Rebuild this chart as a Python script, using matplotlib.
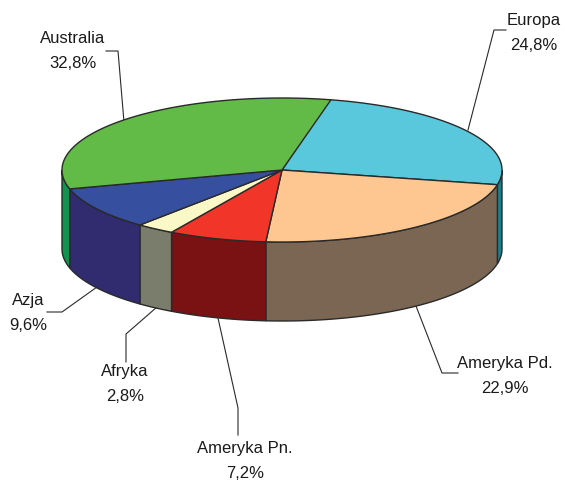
import matplotlib
matplotlib.use("Agg")
import matplotlib.pyplot as plt
import numpy as np

# values in percent, clockwise from the top
labels = ["Europa", "Ameryka Pd.", "Ameryka Pn.", "Afryka", "Azja", "Australia"]
values = [24.8, 22.9, 7.2, 2.8, 9.6, 32.8]
value_text = ["24,8%", "22,9%", "7,2%", "2,8%", "9,6%", "32,8%"]
top_colors = ["#5AC8DC", "#FEC690", "#F13529", "#FBF8C8", "#36509F", "#62BB46"]
side_colors = ["#1C7F8B", "#7A6652", "#7A1113", "#7B7D6C", "#312B70", "#12914F"]

# pixel layout of the pie
cx, cy = 282, 170
rx, ry = 220, 72
depth = 79
start = 77.5

# label position, leader line points
label_pos = [(534, 33), (505, 376), (245, 461), (125, 384), (28, 313), (73, 51)]
leaders = [
    [(506, 30), (494, 30), (468, 130)],
    [(458, 373), (442, 373), (416, 306)],
    [(238, 435), (238, 408), (218, 318)],
    [(126, 362), (126, 334), (157, 307)],
    [(47, 312), (62, 312), (97, 287)],
    [(106, 51), (118, 51), (124, 122)],
]

plt.rcParams["font.family"] = ["Liberation Sans"]
fig = plt.figure(figsize=(5.65, 4.83), dpi=100)
ax = fig.add_axes([0, 0, 1, 1])
ax.set_xlim(0, 565)
ax.set_ylim(483, 0)
ax.axis("off")

edges = start - np.cumsum([0] + values) * 3.6


def arc(a, b):
    t = np.radians(np.linspace(a, b, 80))
    return cx + rx * np.cos(t), cy - ry * np.sin(t)


# walls first, only the front half of the rim shows
for i in range(len(values)):
    a, b = edges[i], edges[i + 1]
    # front half runs from 0 to -180
    a2, b2 = min(a, 0), max(b, -180)
    if a2 <= b2:
        continue
    x, y = arc(a2, b2)
    ax.fill(np.r_[x, x[::-1]], np.r_[y, y[::-1] + depth], fc=side_colors[i],
            ec="#2a2a2a", lw=1.0, zorder=2)

for i in range(len(values)):
    x, y = arc(edges[i], edges[i + 1])
    ax.fill(np.r_[cx, x], np.r_[cy, y], fc=top_colors[i], ec="#2a2a2a", lw=1.0, zorder=3)

for i in range(len(labels)):
    pts = np.array(leaders[i])
    ax.plot(pts[:, 0], pts[:, 1], color="#2a2a2a", lw=0.8, zorder=1)
    ax.text(label_pos[i][0], label_pos[i][1], labels[i] + "\n" + value_text[i],
            ha="center", va="center", fontsize=12, color="#1a1a1a", linespacing=1.85)

fig.savefig("out.png", dpi=100)
